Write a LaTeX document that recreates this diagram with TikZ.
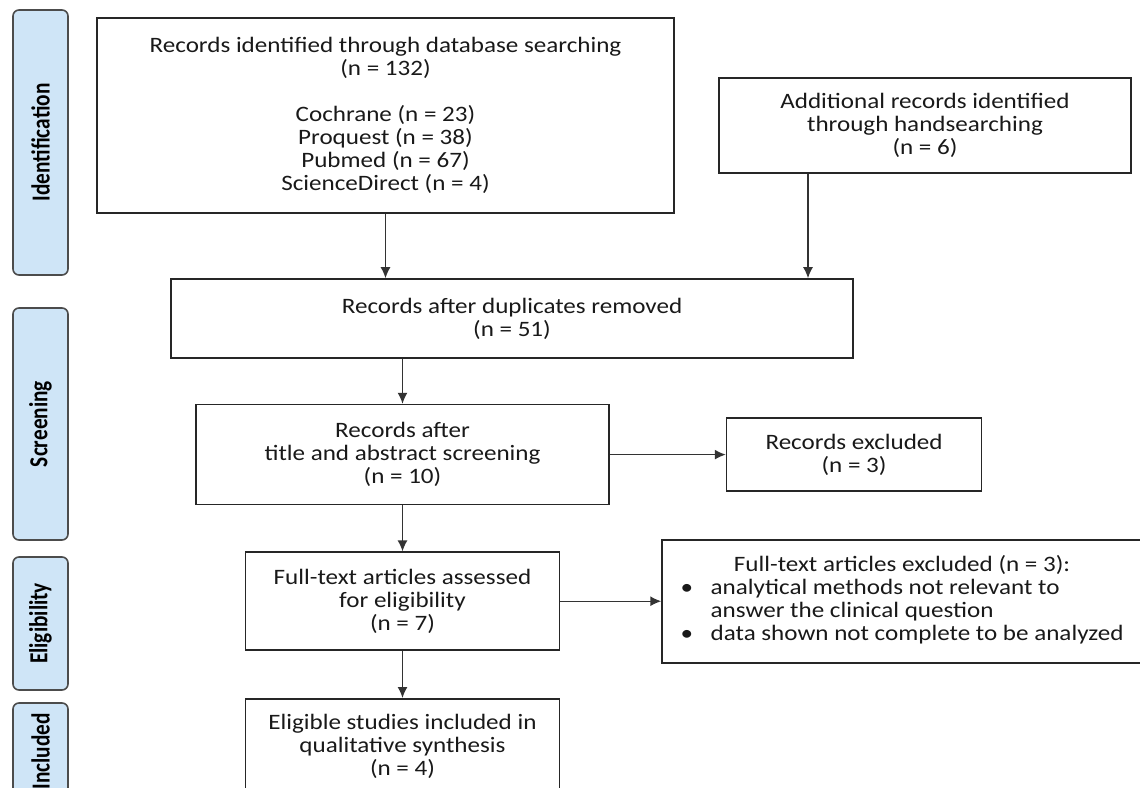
\documentclass[tikz,border=0pt]{standalone}
\usepackage{fontspec}
\setmainfont{Carlito}[FakeStretch=1.14]
\newfontfamily\sidefont{Carlito}[FakeStretch=0.82]
\usepackage{xcolor}
\usetikzlibrary{positioning,arrows.meta}
\definecolor{stagefill}{RGB}{207,229,247}
\tikzset{
  box/.style={draw=black!85,line width=0.8pt,align=center,inner sep=2pt,text=black!90,font=\fontsize{11}{11.5}\selectfont},
  stage/.style={draw=black!70,line width=0.8pt,fill=stagefill,rounded corners=3pt,rotate=90,minimum height=27.5pt,inner sep=0pt,font=\sidefont\bfseries\fontsize{13}{13}\selectfont},
  arr/.style={->,line width=0.7pt,draw=black!80}
}

\begin{document}
\begin{tikzpicture}[x=0.5pt,y=-0.5pt,>={Latex[length=5.5pt,width=5pt]}]
  \clip (0,0) rectangle (1140,787);
  \node[stage,minimum width=132.5pt] (s1) at (40.5,142.5) {Identification};
  \node[stage,minimum width=116pt] (s2) at (40.5,424) {Screening};
  \node[stage,minimum width=66.5pt] (s3) at (40.5,623.5) {Eligibility};
  \node[stage,minimum width=48.5pt] (s4) at (40.5,751.5) {Included};

  \node[box,minimum width=288.5pt,minimum height=97.5pt] (n1) at (385.5,115.5) {Records identified through database searching\\(n = 132)\\[11.5pt]Cochrane (n = 23)\\Proquest (n = 38)\\Pubmed (n = 67)\\ScienceDirect (n = 4)};
  \node[box,minimum width=206pt,minimum height=47.5pt] (n2) at (925,125.5) {Additional records identified\\through handsearching\\(n = 6)};
  \node[box,minimum width=341pt,minimum height=39.5pt] (n3) at (512,318.5) {Records after duplicates removed\\(n = 51)};
  \node[box,minimum width=206.5pt,minimum height=50pt,below=22.5pt of n3,xshift=-54.75pt] (n4) {Records after\\title and abstract screening\\(n = 10)};
  \node[box,minimum width=127.5pt,minimum height=36.5pt,right=58pt of n4] (n5) {Records excluded\\(n = 3)};
  \node[box,minimum width=157pt,minimum height=49pt,below=23pt of n4] (n6) {Full-text articles assessed\\for eligibility\\(n = 7)};
  \node[box,minimum width=240pt,minimum height=61.5pt,inner sep=0pt,right=50.5pt of n6] (n7) {\begin{tabular}{@{}p{15pt}@{}l@{}}
    \multicolumn{2}{c}{Full-text articles excluded (n = 3):}\\
    \textbullet & analytical methods not relevant to\\
     & answer the clinical question\\
    \textbullet & data shown not complete to be analyzed
  \end{tabular}};
  \node[box,minimum width=157pt,minimum height=48pt,below=23.5pt of n6] (n8) {Eligible studies included in\\qualitative synthesis\\(n = 4)};

  \draw[arr] (n1.south) -- (n1.south |- n3.north);
  \draw[arr] ([xshift=-58.5pt]n2.south) -- ([xshift=-58.5pt]n2.south |- n3.north);
  \draw[arr] (n4.north |- n3.south) -- (n4.north);
  \draw[arr] (n4) -- (n5);
  \draw[arr] (n4) -- (n6);
  \draw[arr] (n6) -- (n7);
  \draw[arr] (n6) -- (n8);
\end{tikzpicture}
\end{document}
